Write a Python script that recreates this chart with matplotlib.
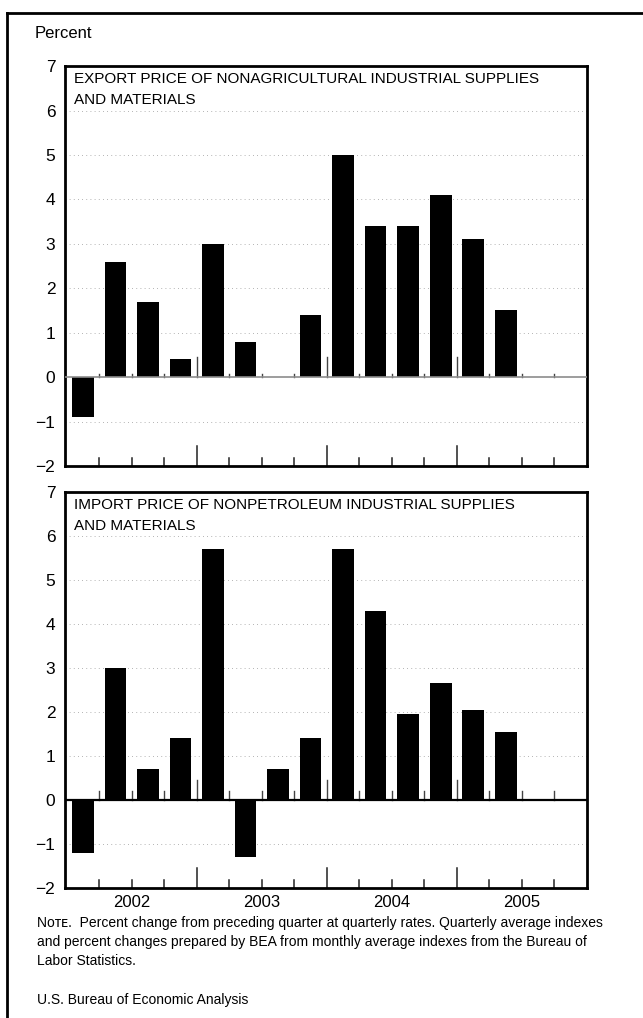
import matplotlib
matplotlib.use('Agg')
import matplotlib.pyplot as plt
import numpy as np

plt.rcParams['font.family'] = ['Liberation Sans', 'DejaVu Sans']

quarters = ['2002Q1', '2002Q2', '2002Q3', '2002Q4',
            '2003Q1', '2003Q2', '2003Q3', '2003Q4',
            '2004Q1', '2004Q2', '2004Q3', '2004Q4',
            '2005Q1', '2005Q2', '2005Q3', '2005Q4']
years = ['2002', '2003', '2004', '2005']

exportValues = [-0.9, 2.6, 1.7, 0.4, 3.0, 0.8, 0.0, 1.4,
                5.0, 3.4, 3.4, 4.1, 3.1, 1.5, np.nan, np.nan]
importValues = [-1.2, 3.0, 0.7, 1.4, 5.7, -1.3, 0.7, 1.4,
                5.7, 4.3, 1.95, 2.65, 2.05, 1.55, np.nan, np.nan]

exportTitle = 'EXPORT PRICE OF NONAGRICULTURAL INDUSTRIAL SUPPLIES\nAND MATERIALS'
importTitle = 'IMPORT PRICE OF NONPETROLEUM INDUSTRIAL SUPPLIES\nAND MATERIALS'
yTicks = [7, 6, 5, 4, 3, 2, 1, 0, -1, -2]


def drawPanel(ax, values, title, zeroColor, zeroWidth, zeroTickMinor):
    x = np.arange(len(quarters))
    for y in [6, 5, 4, 3, 2, 1, -1]:
        ax.axhline(y, color='#9a9a9a', lw=0.6, linestyle=(0, (1, 4)), zorder=0)
    ax.bar(x, values, width=0.67, color='black', zorder=2)
    ax.axhline(0, color=zeroColor, lw=zeroWidth, zorder=3)

    # quarter boundary ticks on zero line and on the bottom
    for k in range(1, len(quarters)):
        b = k - 0.5
        isYear = (k % 4 == 0)
        up = 0.45 if isYear else zeroTickMinor
        ax.plot([b, b], [0, up], color='#444444', lw=1.0, zorder=1)
        low = 0.45 if isYear else 0.18
        ax.plot([b, b], [-2, -2 + low], color='#222222', lw=1.1, zorder=1)

    ax.set_xlim(-0.55, len(quarters) - 0.5)
    ax.set_ylim(-2, 7)
    ax.set_yticks(yTicks)
    ax.set_yticklabels([str(t).replace('-', '\u2212') for t in yTicks], fontsize=12.5)
    ax.tick_params(axis='y', length=0, pad=7)
    ax.set_xticks([])
    for s in ax.spines.values():
        s.set_linewidth(2)
    ax.text(0.017, 0.984, title, transform=ax.transAxes, ha='left', va='top',
            fontsize=11, linespacing=1.6)


fig = plt.figure(figsize=(6.43, 10.18), dpi=100)

axTop = fig.add_axes([0.1011, 0.5422, 0.8118, 0.3929])
drawPanel(axTop, exportValues, exportTitle, '#8c8c8c', 1.2, 0.08)

axBottom = fig.add_axes([0.1011, 0.1277, 0.8118, 0.389])
drawPanel(axBottom, importValues, importTitle, 'black', 1.6, 0.2)

# year labels centered under each year
for i, yr in enumerate(years):
    axBottom.text(i * 4 + 1.5, -2.32, yr, ha='center', va='center', fontsize=12)

fig.text(35 / 643, 1 - 33 / 1018, 'Percent', ha='left', va='center', fontsize=12)

noteLines = ('N\u1d0f\u1d1b\u1d07.  Percent change from preceding quarter at quarterly rates. Quarterly average indexes\n'
             'and percent changes prepared by BEA from monthly average indexes from the Bureau of\n'
             'Labor Statistics.')
fig.text(37 / 643, 1 - 916 / 1018, noteLines, ha='left', va='top', fontsize=10, linespacing=1.45)
fig.text(37 / 643, 1 - 1000 / 1018, 'U.S. Bureau of Economic Analysis', ha='left', va='center', fontsize=10)

# outer border lines
fig.add_artist(plt.Line2D([7 / 643, 7 / 643], [0, 1 - 13 / 1018], color='black', lw=2,
                          transform=fig.transFigure))
fig.add_artist(plt.Line2D([7 / 643, 1], [1 - 13 / 1018, 1 - 13 / 1018], color='black', lw=2,
                          transform=fig.transFigure))

fig.savefig('out.png', dpi=100)
